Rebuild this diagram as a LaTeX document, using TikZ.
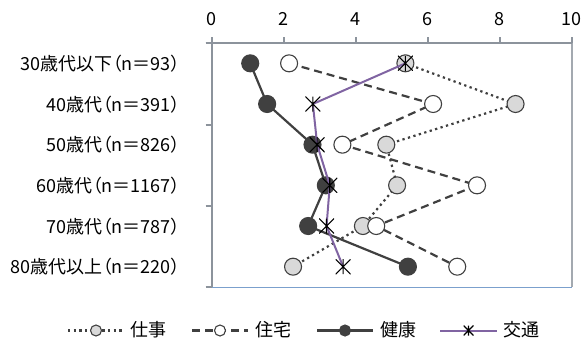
\documentclass[tikz,border=0pt]{standalone}
\usepackage{fontspec}
\usetikzlibrary{calc}
\newfontfamily\jp[RawFeature=+palt]{Noto Sans CJK JP}
\definecolor{dk}{HTML}{404040}
\definecolor{lgray}{HTML}{D9D9D9}
\definecolor{purp}{HTML}{8064A2}
\definecolor{axisgray}{HTML}{8C939C}
\definecolor{frameblue}{HTML}{7BA0CD}
\begin{document}
\begin{tikzpicture}[x=1pt,y=-1pt,
  txt/.style={font=\jp\fontsize{18}{20}\selectfont, inner sep=0pt},
  ticklab/.style={txt, anchor=base},
  catlab/.style={txt, anchor=base east},
  leglab/.style={txt, anchor=base west},
  axisline/.style={draw=axisgray, line width=1.8pt},
  dkline/.style={draw=dk, line width=2.2pt},
  sigoto/.style={dkline, dash pattern=on 2.3pt off 3.4pt},
  jutaku/.style={dkline, dash pattern=on 8pt off 5pt},
  kenko/.style={dkline},
  kotsu/.style={draw=purp, line width=2pt},
  mk/.style={circle, draw=dk, line width=1.1pt, minimum size=#1, inner sep=0pt},
  mgray/.style={mk=#1, fill=lgray}, mgray/.default=17pt,
  mopen/.style={mk=#1, fill=white}, mopen/.default=17pt,
  mfill/.style={mk=#1, fill=dk}, mfill/.default=17pt,
  mstar/.style={rectangle, minimum size=#1, inner sep=0pt,
    path picture={\draw[black, line width=1.1pt]
      (path picture bounding box.north west) -- (path picture bounding box.south east)
      (path picture bounding box.north east) -- (path picture bounding box.south west)
      (path picture bounding box.north) -- (path picture bounding box.south);}},
  mstar/.default=15pt
]
\useasboundingbox (0,0) rectangle (585,340);

% plot area frame
\coordinate (tl) at (211.7,43.3);
\coordinate (tr) at (571.7,43.3);
\coordinate (bl) at (211.7,287.3);
\coordinate (br) at (571.7,287.3);
\draw[draw=frameblue, line width=1.6pt] (bl) -- (br);
\draw[draw=axisgray!80, line width=1.6pt] (tr) -- (br);

% axes
\draw[axisline] ([xshift=-6pt]tl) -- (tr);
\draw[axisline] (tl) -- (bl);
\foreach \k in {0,1,2,3,4,5}
  \draw[axisline] (211.7+72*\k,37.3) -- (211.7+72*\k,43.3);
\foreach \yy in {43.3,124.6,205.9,287.3}
  \draw[axisline] (205.7,\yy) -- (211.7,\yy);
\foreach \v [count=\k from 0] in {0,2,4,6,8,10}
  \node[ticklab] (tick\k) at (211.7+72*\k,25) {\v};

% category labels
\foreach \t [count=\i from 0] in {30歳代以下（n＝93）,40歳代（n＝391）,50歳代（n＝826）,60歳代（n＝1167）,70歳代（n＝787）,80歳代以上（n＝220）}
  \node[catlab] (cat\i) at (180,63.33+40.67*\i+7) {\t};

\begin{scope}[shift={(211.7,63.33)}, x=36pt, y=-40.67pt]
  % 仕事
  \foreach \v [count=\i] in {5.38,8.44,4.85,5.15,4.20,2.26}
    \coordinate (s\i) at (\v,\i-1);
  \draw[sigoto] (s1) -- (s2) -- (s3) -- (s4) -- (s5) -- (s6);
  \foreach \i in {1,...,6} \node[mgray] (S\i) at (s\i) {};
  % 住宅
  \foreach \v [count=\i] in {2.15,6.15,3.63,7.37,4.57,6.82}
    \coordinate (h\i) at (\v,\i-1);
  \draw[jutaku] (h1) -- (h2) -- (h3) -- (h4) -- (h5) -- (h6);
  \foreach \i in {1,...,6} \node[mopen] (H\i) at (h\i) {};
  % 健康
  \foreach \v [count=\i] in {1.07,1.54,2.80,3.17,2.68,5.45}
    \coordinate (k\i) at (\v,\i-1);
  \draw[kenko] (k1) -- (k2) -- (k3) -- (k4) -- (k5) -- (k6);
  \foreach \i in {1,...,6} \node[mfill] (K\i) at (k\i) {};
  % 交通
  \foreach \v [count=\i] in {5.38,2.81,2.93,3.28,3.19,3.65}
    \coordinate (t\i) at (\v,\i-1);
  \draw[kotsu] (t1) -- (t2) -- (t3) -- (t4) -- (t5) -- (t6);
  \foreach \i in {1,...,6} \node[mstar] (T\i) at (t\i) {};
\end{scope}

% legend
\coordinate (la0) at (68,330.5);   \coordinate (lb0) at (124,330.5);
\coordinate (la1) at (192,330.5);  \coordinate (lb1) at (248,330.5);
\coordinate (la2) at (317,330.5);  \coordinate (lb2) at (373,330.5);
\coordinate (la3) at (440,330.5);  \coordinate (lb3) at (497,330.5);
\draw[sigoto] (la0) -- (lb0);
\node[mgray=11pt] (lm0) at ($(la0)!0.5!(lb0)$) {};
\draw[jutaku] (la1) -- (lb1);
\node[mopen=11pt] (lm1) at ($(la1)!0.5!(lb1)$) {};
\draw[kenko] (la2) -- (lb2);
\node[mfill=11pt] (lm2) at ($(la2)!0.5!(lb2)$) {};
\draw[kotsu] (la3) -- (lb3);
\node[mstar=10pt] (lm3) at ($(la3)!0.5!(lb3)$) {};
\node[leglab] (lt0) at (130,336) {仕事};
\node[leglab] (lt1) at (255,336) {住宅};
\node[leglab] (lt2) at (380,336) {健康};
\node[leglab] (lt3) at (503,336) {交通};
\end{tikzpicture}
\end{document}
